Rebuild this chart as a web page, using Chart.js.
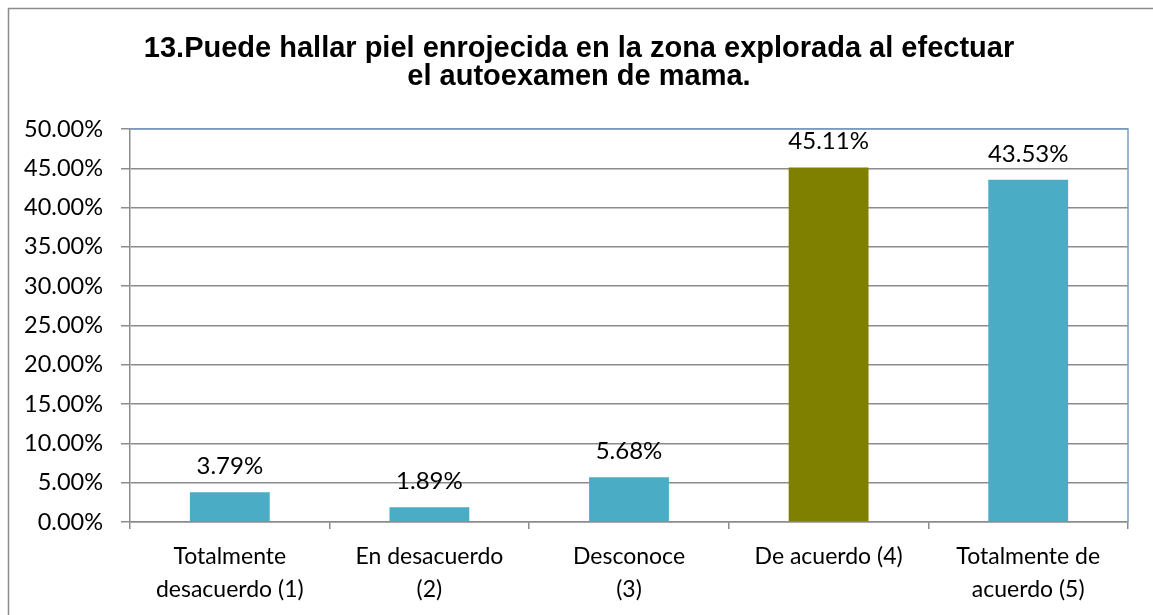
<!DOCTYPE html>
<html>
<head>
<meta charset="utf-8">
<script src="https://cdn.jsdelivr.net/npm/chart.js@4/dist/chart.umd.min.js"></script>
<style>
html,body{margin:0;padding:0;background:#fff;}
canvas{display:block;}
</style>
</head>
<body>
<canvas id="c" width="1153" height="615"></canvas>
<script>
const titleLines = ["13.Puede hallar piel enrojecida en la zona explorada al efectuar", "el autoexamen de mama."];
const categories = [["Totalmente", "desacuerdo (1)"], ["En desacuerdo", "(2)"], ["Desconoce", "(3)"], ["De acuerdo (4)"], ["Totalmente de", "acuerdo (5)"]];
const values = [3.79, 1.89, 5.68, 45.11, 43.53];
const barColors = ["#4BACC6", "#4BACC6", "#4BACC6", "#808000", "#4BACC6"];
const yMin = 0, yMax = 50, yStep = 5;

const labelFont = "Lato, 'Open Sans', sans-serif";

const framePlugin = {
  id: 'frame',
  beforeDraw(chart) {
    const ctx = chart.ctx;
    ctx.save();
    ctx.fillStyle = '#fff';
    ctx.fillRect(0, 0, chart.width, chart.height);
    ctx.strokeStyle = '#8c8c8c';
    ctx.lineWidth = 1.5;
    ctx.beginPath();
    ctx.moveTo(8.5, chart.height);
    ctx.lineTo(8.5, 8.5);
    ctx.lineTo(chart.width, 8.5);
    ctx.stroke();
    // title
    ctx.fillStyle = '#000';
    ctx.font = "bold 29px 'Liberation Sans', Arial, sans-serif";
    ctx.textAlign = 'center';
    ctx.textBaseline = 'alphabetic';
    ctx.fillText(titleLines[0], 579, 57);
    ctx.fillText(titleLines[1], 579, 85);
    ctx.restore();
  },
  afterDraw(chart) {
    const a = chart.chartArea;
    const ctx = chart.ctx;
    ctx.save();
    ctx.strokeStyle = '#7b9dc9';
    ctx.lineWidth = 1.5;
    ctx.beginPath();
    ctx.moveTo(a.left, a.top);
    ctx.lineTo(a.right, a.top);
    ctx.lineTo(a.right, a.bottom);
    ctx.stroke();
    ctx.restore();
  }
};

const valueLabels = {
  id: 'valueLabels',
  afterDatasetsDraw(chart) {
    const ctx = chart.ctx;
    ctx.save();
    ctx.font = "24px " + labelFont;
    ctx.fillStyle = '#000';
    ctx.textAlign = 'center';
    ctx.textBaseline = 'middle';
    chart.getDatasetMeta(0).data.forEach((el, i) => {
      ctx.fillText(values[i].toFixed(2) + '%', el.x, el.y - 26);
    });
    ctx.restore();
  }
};

new Chart(document.getElementById('c'), {
  type: 'bar',
  data: {
    labels: categories,
    datasets: [{
      data: values,
      backgroundColor: barColors,
      borderWidth: 0,
      categoryPercentage: 0.8,
      barPercentage: 0.5
    }]
  },
  options: {
    responsive: false,
    animation: false,
    events: [],
    layout: { padding: { left: 0, right: 25, top: 129, bottom: 0 } },
    plugins: {
      legend: { display: false },
      tooltip: { enabled: false },
      title: { display: false }
    },
    scales: {
      x: {
        offset: true,
        grid: { offset: true, drawOnChartArea: false, drawTicks: true, tickLength: 7, color: '#8c8c8c', lineWidth: 1.5 },
        border: { color: '#8c8c8c', width: 1.5 },
        ticks: { color: '#000', padding: 11, maxRotation: 0, autoSkip: false, font: { family: labelFont, size: 23, lineHeight: '33px' } },
        afterFit(scale) { scale.height = 93; }
      },
      y: {
        min: yMin, max: yMax,
        grid: { color: '#8c8c8c', lineWidth: 1.5, tickLength: 9 },
        border: { color: '#8c8c8c', width: 1.5 },
        ticks: {
          stepSize: yStep, color: '#000', padding: 18,
          font: { family: labelFont, size: 23.5 },
          callback: v => v.toFixed(2) + '%'
        },
        afterFit(scale) { scale.width = 130; }
      }
    }
  },
  plugins: [framePlugin, valueLabels]
});
</script>
</body>
</html>
